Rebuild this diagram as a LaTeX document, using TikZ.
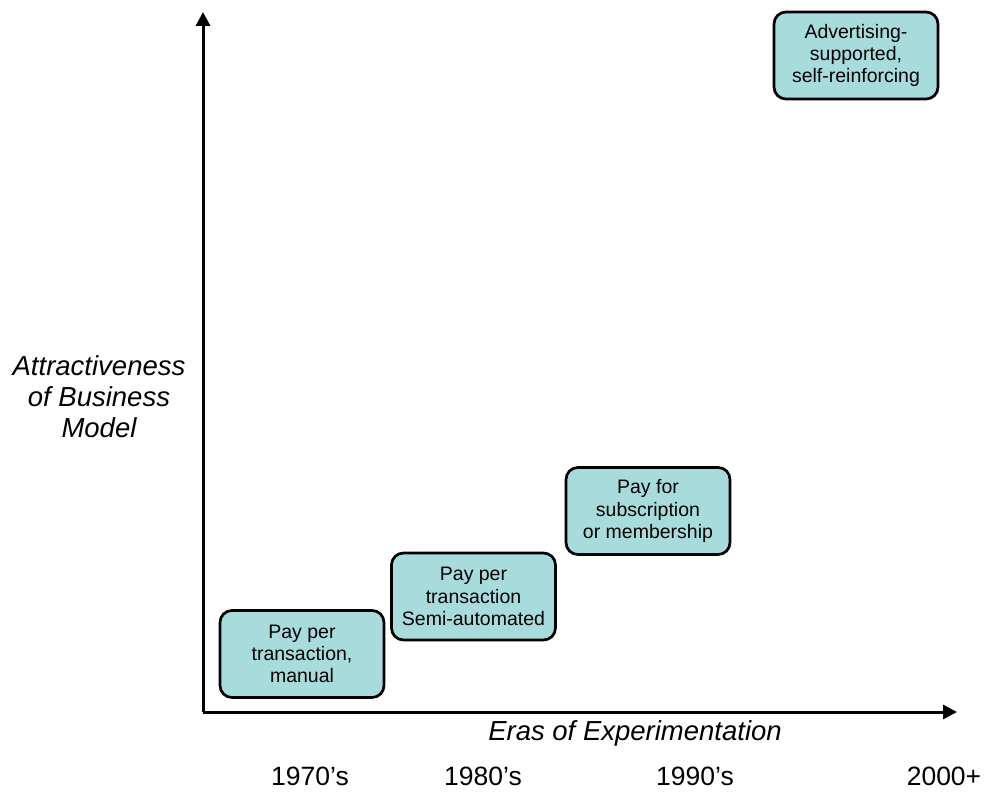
\documentclass[tikz,border=0pt]{standalone}
\usepackage{fontspec}
\setmainfont{Liberation Sans}
\usetikzlibrary{arrows.meta}
\definecolor{boxfill}{RGB}{168,220,220}
\tikzset{
  era/.style={draw=black, line width=2.7pt, fill=boxfill, rounded corners=12pt,
    minimum width=164pt, minimum height=87pt, align=center, inner sep=1pt,
    font=\fontsize{19.5}{22.3}\selectfont},
  axis/.style={line width=3pt, -{Triangle[length=14pt,width=14pt]}},
  axlabel/.style={font=\fontsize{27.5}{31}\selectfont\itshape, align=center},
  yearlabel/.style={font=\fontsize{26.5}{30}\selectfont, anchor=base, inner sep=0pt}
}
\begin{document}
\begin{tikzpicture}[x=1pt,y=-1pt]
\useasboundingbox (0,0) rectangle (989,792);
\coordinate (origin) at (203,712);
\coordinate (ytop) at (203,12);
\coordinate (xend) at (957,712);
\draw[axis] (origin) -- (ytop);
\draw[axis] (origin) -- (xend);
\node[era] (b1) at (302,654) {Pay per\\transaction,\\manual};
\node[era] (b2) at (473.5,596.5) {Pay per\\transaction\\Semi-automated};
\node[era] (b3) at (648,511) {Pay for\\subscription\\or membership};
\node[era] (b4) at (856,55.5) {Advertising-\\supported,\\self-reinforcing};
\node[axlabel] (ylab) at (99,397) {Attractiveness\\of Business\\Model};
\node[axlabel] (xlab) at (635,733) {Eras of Experimentation};
\node[yearlabel] (y70) at (310,785) {1970's};
\node[yearlabel] (y80) at (483,785) {1980's};
\node[yearlabel] (y90) at (695,785) {1990's};
\node[yearlabel] (y00) at (944,785) {2000+};
\end{tikzpicture}
\end{document}
